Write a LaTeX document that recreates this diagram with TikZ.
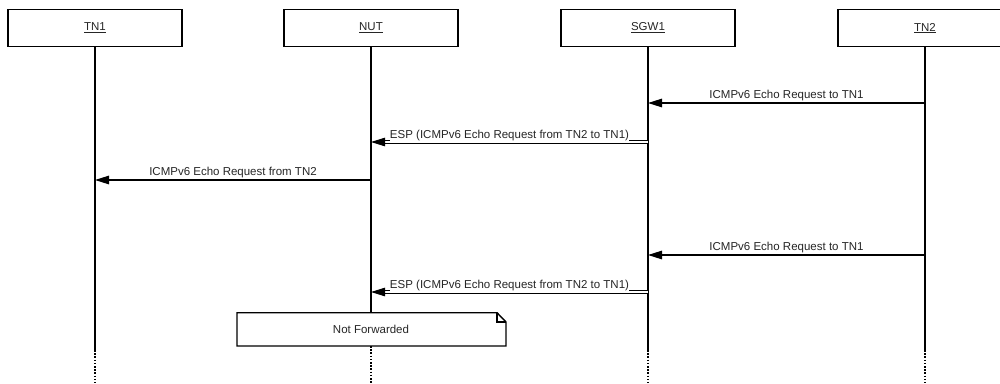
\documentclass[tikz,border=0pt]{standalone}
\usepackage{fontspec}
\setmainfont{Liberation Sans}
\usetikzlibrary{arrows.meta,calc}
\tikzset{
  x=1pt, y=-1pt,
  actor/.style={draw, line width=1.4pt, minimum width=174pt, minimum height=37pt, inner sep=0pt, font=\fontsize{11.5}{13}\selectfont, text=black!85},
  life/.style={line width=1.4pt},
  lifedot/.style={line width=1.4pt, dash pattern=on 1.6pt off 1.6pt},
  msg/.style={line width=1.3pt, -{Triangle[length=14pt, width=8.5pt]}},
  dmsg/.style={line width=1pt, double, double distance=1.8pt, -{Triangle[length=14pt, width=8.5pt]}},
  lbl/.style={font=\fontsize{11.5}{13}\selectfont, text=black!85, anchor=base, inner sep=0pt, fill=white},
  notebox/.style={line width=1.4pt}
}
\begin{document}
\begin{tikzpicture}
\useasboundingbox (0,0) rectangle (1000,383);
\begin{scope}
\clip (0,0) rectangle (1000,383);
\node[actor] (tn1) at (95,28) {\underline{TN1}};
\node[actor] (nut) at (371,28) {\underline{NUT}};
\node[actor] (sgw) at (648,28) {\underline{SGW1}};
\node[actor] (tn2) at (925,28) {\underline{TN2}};
\end{scope}
% lifeline coordinates
\coordinate (tn1e) at (95,350);
\coordinate (nute) at (371,312.7);
\coordinate (sgwe) at (648,350);
\coordinate (tn2e) at (925,350);
\coordinate (tn1z) at (95,383);
\coordinate (nutn) at (371,346);
\coordinate (nutz) at (371,383);
\coordinate (sgwz) at (648,383);
\coordinate (tn2z) at (925,383);
\draw[life] (tn1.south) -- (tn1e);
\draw[life] (nut.south) -- (nute);
\draw[life] (sgw.south) -- (sgwe);
\draw[life] (tn2.south) -- (tn2e);
\draw[lifedot] (tn1e) -- (tn1z);
\draw[lifedot] (nutn) -- (nutz);
\draw[lifedot] (sgwe) -- (sgwz);
\draw[lifedot] (tn2e) -- (tn2z);
% message points
\coordinate (a1) at (925,103); \coordinate (b1) at (648,103);
\coordinate (a2) at (648,142); \coordinate (b2) at (371,142);
\coordinate (a3) at (371,180); \coordinate (b3) at (95,180);
\coordinate (a4) at (925,255); \coordinate (b4) at (648,255);
\coordinate (a5) at (648,292); \coordinate (b5) at (371,292);
\draw[msg] (a1) -- (b1) node[lbl, midway, yshift=5pt] {ICMPv6 Echo Request to TN1};
\draw[dmsg] (a2) -- (b2);
\node[lbl] at ($(a2)!0.5!(b2)$) [yshift=3.5pt] {ESP (ICMPv6 Echo Request from TN2 to TN1)};
\draw[msg] (a3) -- (b3) node[lbl, midway, yshift=5pt] {ICMPv6 Echo Request from TN2};
\draw[msg] (a4) -- (b4) node[lbl, midway, yshift=5pt] {ICMPv6 Echo Request to TN1};
\draw[dmsg] (a5) -- (b5);
\node[lbl] at ($(a5)!0.5!(b5)$) [yshift=3.5pt] {ESP (ICMPv6 Echo Request from TN2 to TN1)};
% note
\draw[notebox, line join=miter] (237,312.7) -- (497,312.7) -- (506,322) -- (506,346) -- (237,346) -- cycle;
\draw[line width=1.1pt] (497,312.7) -- (497,322) -- (506,322);
\node[lbl, anchor=center, fill=none] (note) at (371,329.5) {Not Forwarded};
\end{tikzpicture}
\end{document}
